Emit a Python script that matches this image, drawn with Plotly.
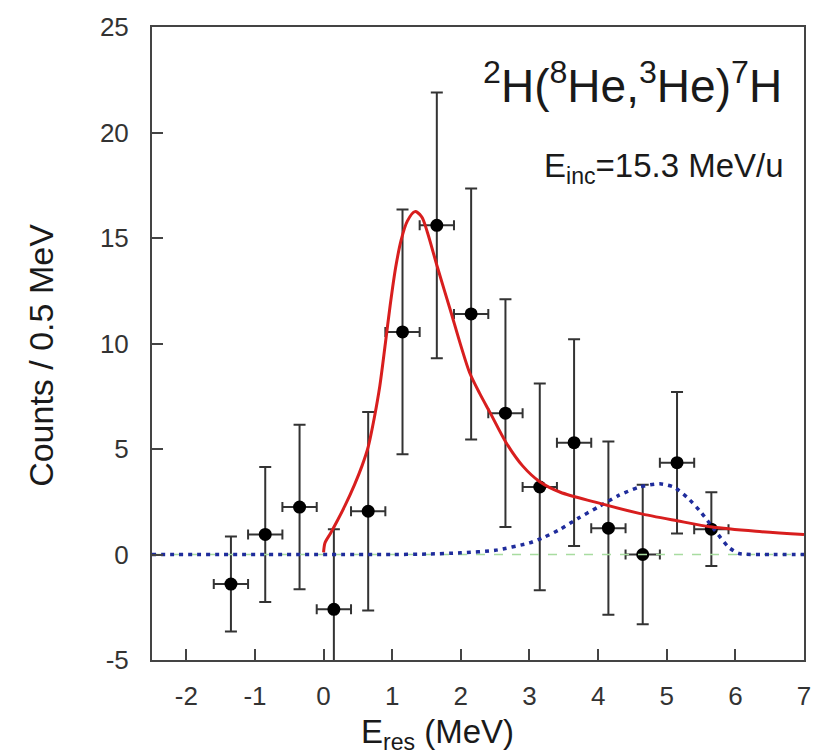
import plotly.graph_objects as go

# ---- data points (E_res bin centres, counts, errors) ----
x_data = [-1.35, -0.85, -0.35, 0.15, 0.65, 1.15, 1.65, 2.15, 2.65, 3.15, 3.65, 4.15, 4.65, 5.15, 5.65]
y_data = [-1.4, 0.95, 2.25, -2.6, 2.05, 10.55, 15.6, 11.4, 6.7, 3.2, 5.3, 1.25, 0.0, 4.35, 1.2]
y_err = [2.25, 3.2, 3.9, 3.8, 4.7, 5.8, 6.3, 5.95, 5.4, 4.9, 4.9, 4.1, 3.3, 3.35, 1.75]
x_err = [0.25] * 15

# ---- red fit curve ----
red_x = [0.0, 0.02, 0.1, 0.2, 0.31, 0.45, 0.56, 0.65, 0.74, 0.82, 0.9, 0.97, 1.05, 1.13,
         1.22, 1.33, 1.43, 1.51, 1.66, 1.85, 2.0, 2.13, 2.28, 2.43, 2.66, 2.9, 3.15, 3.45,
         3.96, 4.6, 5.15, 5.66, 6.3, 7.0]
red_y = [0.1, 0.55, 1.0, 1.6, 2.3, 3.3, 4.2, 5.1, 6.5, 8.0, 10.0, 11.8, 13.6, 14.9,
         15.8, 16.25, 16.0, 15.3, 13.6, 11.55, 9.9, 8.6, 7.6, 6.7, 5.3, 4.2, 3.45, 2.95,
         2.48, 1.95, 1.6, 1.3, 1.1, 0.95]

# ---- blue dotted curve ----
blue_x = [-2.5, 1.0, 1.5, 2.0, 2.5, 3.0, 3.2, 3.45, 3.7, 4.0, 4.3, 4.6, 4.9, 5.1, 5.3,
          5.5, 5.7, 5.9, 6.05, 6.5, 7.0]
blue_y = [0.0, 0.0, 0.02, 0.08, 0.2, 0.55, 0.8, 1.2, 1.7, 2.25, 2.8, 3.2, 3.35, 3.2, 2.7,
          2.0, 1.15, 0.35, 0.05, 0.0, 0.0]

# ---- green baseline ----
green_x = [-2.5, 7.0]
green_y = [0.0, 0.0]

x_ticks = [-2, -1, 0, 1, 2, 3, 4, 5, 6, 7]
y_ticks = [-5, 0, 5, 10, 15, 20, 25]

FONT = "Liberation Sans, Arial, sans-serif"

fig = go.Figure()

fig.add_trace(go.Scatter(
    x=x_data, y=y_data, mode="markers",
    marker=dict(color="black", size=13),
    error_y=dict(type="data", array=y_err, visible=True, color="#333333", thickness=2, width=6),
    error_x=dict(type="data", array=x_err, visible=True, color="#333333", thickness=2, width=5),
    showlegend=False,
))

fig.add_trace(go.Scatter(
    x=green_x, y=green_y, mode="lines",
    line=dict(color="#a8dca0", width=1.5, dash="dash"), showlegend=False))

fig.add_trace(go.Scatter(
    x=blue_x, y=blue_y, mode="lines",
    line=dict(color="#1f2c9c", width=3.5, dash="4px,5px", shape="spline", smoothing=0.6),
    showlegend=False))

fig.add_trace(go.Scatter(
    x=red_x, y=red_y, mode="lines",
    line=dict(color="#d81e1e", width=3, shape="spline", smoothing=0.8),
    showlegend=False))

axis_common = dict(
    showgrid=False, zeroline=False, showline=True, mirror=True,
    linecolor="#444444", linewidth=2,
    ticks="inside", ticklen=11, tickwidth=1.5, tickcolor="#444444",
    tickfont=dict(family=FONT, size=26, color="#333333"),
)

fig.update_xaxes(range=[-2.5, 7.0], tickvals=x_ticks, ticktext=[str(v) for v in x_ticks],
                 ticklabelstandoff=12, **axis_common)
fig.update_yaxes(range=[-5, 25], tickvals=y_ticks, ticktext=[str(v) for v in y_ticks],
                 ticklabelstandoff=16, **axis_common)

fig.update_layout(
    width=823, height=754,
    margin=dict(l=152, r=13, t=19, b=94),
    paper_bgcolor="white", plot_bgcolor="white",
    font=dict(family=FONT, color="#222222"),
    annotations=[
        dict(text="<sup>2</sup>H(<sup>8</sup>He,<sup>3</sup>He)<sup>7</sup>H",
             xref="paper", yref="paper", x=0.97, y=0.911, xanchor="right", yanchor="middle",
             showarrow=False, font=dict(family=FONT, size=46, color="#1a1a1a")),
        dict(text="E<sub>inc</sub>=15.3 MeV/u",
             xref="paper", yref="paper", x=0.972, y=0.777, xanchor="right", yanchor="middle",
             showarrow=False, font=dict(family=FONT, size=33, color="#1a1a1a")),
        dict(text="E<sub>res</sub> (MeV)",
             xref="paper", yref="paper", x=0.318, y=-0.117, xanchor="left", yanchor="middle",
             showarrow=False, font=dict(family=FONT, size=33, color="#1a1a1a")),
        dict(text="Counts / 0.5 MeV", textangle=-90,
             xref="paper", yref="paper", x=-0.1702, y=0.4805, xanchor="center", yanchor="middle",
             showarrow=False, font=dict(family=FONT, size=34, color="#1a1a1a")),
    ],
)

fig.write_html("out.html")
